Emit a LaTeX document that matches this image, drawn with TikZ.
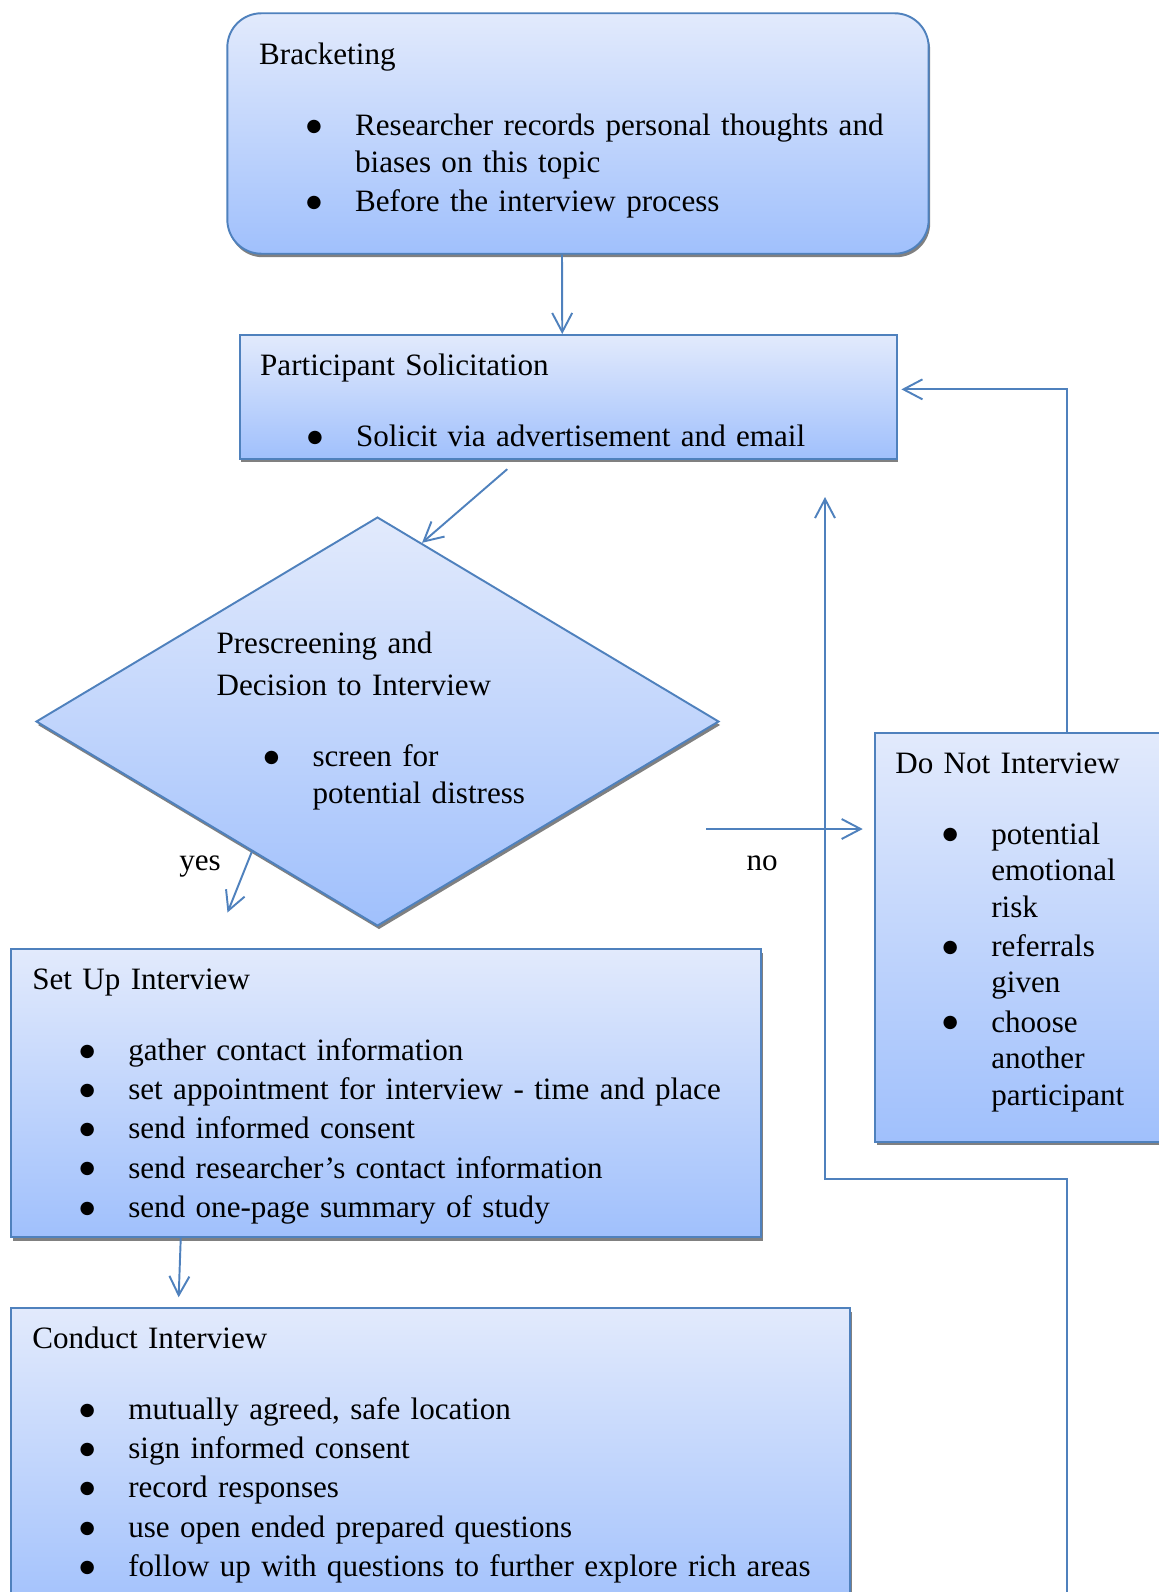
\documentclass[tikz,border=0pt]{standalone}
\usepackage{fontspec}
\setmainfont{Liberation Serif}
\newfontfamily\bulfont{DejaVu Sans}
\usetikzlibrary{positioning,arrows.meta,shapes.geometric,shadows}
\definecolor{lineblue}{RGB}{79,129,189}
\definecolor{boxtop}{RGB}{226,234,252}
\definecolor{boxbot}{RGB}{160,192,252}
\definecolor{shadowgray}{RGB}{128,128,128}
\newcommand{\headgap}{\par\vspace{0.633cm}}
\newcommand{\bul}{\par\vspace{0.057cm}\hangindent=1.92cm\hangafter=1\noindent\hspace*{0.98cm}\makebox[0.24cm]{\raisebox{2.4pt}{\bulfont\fontsize{10}{10}\selectfont ●}}\hspace*{0.70cm}}

\begin{document}
\begin{tikzpicture}[x=0.02cm,y=-0.02cm]
 \tikzset{box/.style={draw=lineblue,line width=1.1pt,top color=boxtop,bottom color=boxbot,inner sep=0,general shadow={fill=shadowgray,shadow xshift=0.03cm,shadow yshift=-0.07cm}}}
 \tikzset{txt/.style={anchor=base west,inner sep=0,text width=17cm,font=\fontsize{17.7}{20.75}\selectfont}}
 \tikzset{lbl/.style={anchor=base,inner sep=0,font=\fontsize{17.7}{20.75}\selectfont}}
 \tikzset{arrow/.style={draw=lineblue,line width=1.1pt,-{Straight Barb[length=0.38cm,width=0.4cm]}}}
 \useasboundingbox (0,0) rectangle (1159,1592);
 \clip (0,0) rectangle (1159,1592);

 % boxes
 \node[box,rounded corners=0.68cm,minimum width=14.03cm,minimum height=4.81cm] (brack) at (578,133.5) {};
 \node[txt] (bracktext) at (258.8,64.8) {Bracketing\headgap\bul Researcher records personal thoughts and\newline biases on this topic\bul Before the interview process\par};

 \node[box,minimum width=13.15cm,minimum height=2.474cm] (solicit) at (568.25,396.85) {};
 \node[txt] (solicittext) at (259.8,375.5) {Participant Solicitation\headgap\bul Solicit via advertisement and email\par};

 \node[box,diamond,minimum width=13.66cm,minimum height=8.18cm] (decide) at (377.5,721.5) {};
 \node[txt] (decidetext) at (216.2,653.5) {Prescreening and\par\vspace{0.12cm}Decision to Interview\headgap\bul screen for\newline potential distress\par};

 \node[box,minimum width=6.1cm,minimum height=8.18cm] (noint) at (1027.5,937.3) {};
 \node[txt] (nointtext) at (895,773.2) {Do Not Interview\headgap\bul potential\newline emotional\newline risk\bul referrals\newline given\bul choose\newline another\newline participant\par};

 \node[box,minimum width=15cm,minimum height=5.764cm] (setup) at (386.2,1093.1) {};
 \node[txt] (setuptext) at (32,989.3) {Set Up Interview\headgap\bul gather contact information\bul set appointment for interview - time and place\bul send informed consent\bul send researcher's contact information\bul send one-page summary of study\par};

 \node[box,minimum width=16.786cm,minimum height=6.236cm] (conduct) at (430.85,1464.1) {};
 \node[txt] (conducttext) at (32,1348.4) {Conduct Interview\headgap\bul mutually agreed, safe location\bul sign informed consent\bul record responses\bul use open ended prepared questions\bul follow up with questions to further explore rich areas\par};

 % labels and free ends
 \node[lbl] (yes) at (200,870) {yes};
 \node[lbl] (no) at (762.2,870) {no};
 \coordinate (yesend) at (227.5,912.5);
 \coordinate (nostart) at (706.4,829);
 \coordinate (noend) at (862.7,829);
 \coordinate (loopfoot) at (1067,1600);
 \coordinate (loopbend) at (825,1179.3);
 \coordinate (looptip) at (825,497);

 % arrows
 \draw[arrow] ([xshift=-0.32cm]brack.south) -- ([xshift=-0.12cm]solicit.north);
 \draw[arrow] ([xshift=-1.22cm,yshift=-0.19cm]solicit.south) -- (decide.76);
 \draw[arrow] (decide.226) -- (yesend);
 \draw[arrow] (nostart) -- (noend);
 \draw[arrow] ([xshift=-4.11cm]setup.south) -- ([xshift=-5.045cm,yshift=0.2cm]conduct.north);
 \draw[arrow] ([xshift=0.79cm]noint.north) |- ([xshift=0.07cm,yshift=0.15cm]solicit.east);
 \draw[arrow] (loopfoot) |- (loopbend) -- (looptip);
\end{tikzpicture}
\end{document}
